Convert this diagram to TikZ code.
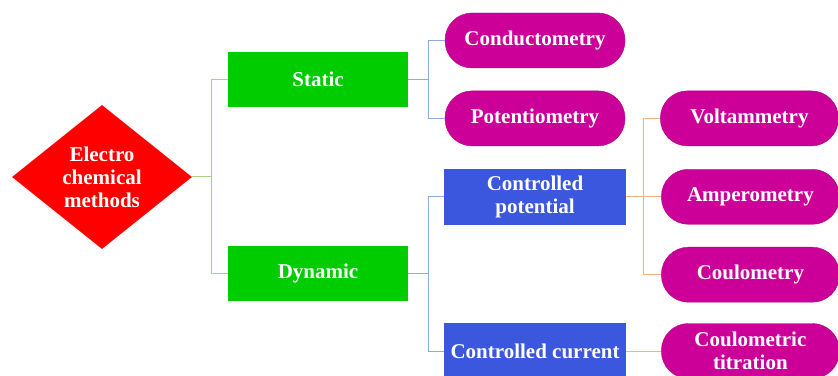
\documentclass[tikz,border=0pt]{standalone}
\usepackage{fontspec}
\setmainfont{Liberation Serif}
\usetikzlibrary{positioning,shapes.geometric}

\definecolor{diamondred}{RGB}{255,0,0}
\definecolor{boxgreen}{RGB}{0,204,0}
\definecolor{boxblue}{RGB}{59,87,221}
\definecolor{pillpink}{RGB}{204,0,153}
\definecolor{linegreen}{RGB}{169,209,142}
\definecolor{lineblue}{RGB}{143,170,220}
\definecolor{lineorange}{RGB}{244,177,131}

\tikzset{
  txt/.style={text=white,font=\fontsize{21}{23}\selectfont\bfseries,align=center,inner sep=0pt},
  greenbox/.style={txt,fill=boxgreen,minimum width=180pt,minimum height=55pt},
  bluebox/.style={txt,fill=boxblue,minimum width=182pt,minimum height=56pt},
  pill/.style={txt,fill=pillpink,draw=pillpink!85!black,rounded corners=27pt,minimum width=180pt,minimum height=55pt},
  link/.style={line width=1pt}
}

\begin{document}
\begin{tikzpicture}[x=1pt,y=1pt,node distance=22.5pt and 35pt]
			\useasboundingbox (0,0) rectangle (838,375);
			\node[txt,diamond,fill=diamondred,aspect=1.25,minimum width=180pt,minimum height=144pt] (ecm) at (102,198) {Electro\\chemical\\methods};
			\node[greenbox] (static) at (318,295.5) {Static};
			\node[greenbox] (dynamic) at (318,101.5) {Dynamic};
			\node[pill] (cond) at (535,334.5) {Conductometry};
			\node[pill,below=of cond] (poten) {Potentiometry};
			\node[bluebox,below=of poten] (ctrlpot) {Controlled\\potential};
			\node[bluebox] (ctrlcur) at (535,24) {Controlled current};
			\node[pill,minimum width=178pt,right=of poten] (volt) {Voltammetry};
			\node[pill,minimum width=178pt,right=of ctrlpot] (ampero) {Amperometry};
			\node[pill,minimum width=178pt,below=of ampero] (coulo) {Coulometry};
			\node[pill,minimum width=178pt,right=of ctrlcur] (coultit) {Coulometric\\titration};
			% green fork
			\draw[link,linegreen] (ecm.east) -- ++(19,0) coordinate (gj) |- (static);
			\draw[link,linegreen] (gj) |- (dynamic);
			% blue forks
			\draw[link,lineblue] (static.east) -- ++(20,0) coordinate (sj) |- (cond);
			\draw[link,lineblue] (sj) |- (poten);
			\draw[link,lineblue] (dynamic.east) -- ++(20,0) coordinate (dj) |- (ctrlpot);
			\draw[link,lineblue] (dj) |- (ctrlcur);
			% orange forks
			\draw[link,lineorange] (ctrlpot.east) -- ++(17,0) coordinate (pj) |- (volt);
			\draw[link,lineorange] (pj) |- (ampero);
			\draw[link,lineorange] (pj) |- (coulo);
			\draw[link,lineorange] (ctrlcur) -- (coultit);
		\end{tikzpicture}
\end{document}
